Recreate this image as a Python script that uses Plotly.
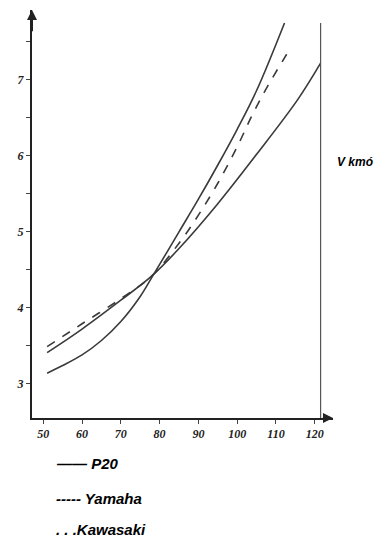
import plotly.graph_objects as go

# ---- data ----
p20_x = [51, 60, 70, 78, 85, 95, 105, 115.6, 121.5]
p20_y = [3.41, 3.72, 4.10, 4.42, 4.78, 5.37, 6.02, 6.74, 7.22]

yam_x = [51, 60, 70, 78, 85, 90, 95, 100, 104, 108, 113.5]
yam_y = [3.49, 3.79, 4.12, 4.42, 4.85, 5.22, 5.64, 6.12, 6.55, 6.93, 7.40]

kaw_x = [51, 55, 60, 65, 70, 75, 78, 85, 90, 95, 100, 105, 112.2]
kaw_y = [3.14, 3.24, 3.38, 3.57, 3.82, 4.15, 4.40, 5.00, 5.43, 5.88, 6.35, 6.86, 7.75]

x_ticks = [50, 60, 70, 80, 90, 100, 110, 120]
y_ticks = [3, 3.5, 4, 4.5, 5, 5.5, 6, 6.5, 7, 7.5]
y_tick_text = ["3", "", "4", "", "5", "", "6", "", "7", ""]
limit_x = 121.5
limit_top = 7.75

X_RANGE = [47.1, 124.7]
Y_RANGE = [2.55, 7.92]

W, H = 379, 538
ML, MR, MT, MB = 32, 46, 10, 120

line_col = "#3a3a3a"
fig = go.Figure()
fig.add_trace(go.Scatter(x=p20_x, y=p20_y, mode="lines", line=dict(color=line_col, width=1.6, shape="spline"), name="P20"))
fig.add_trace(go.Scatter(x=yam_x, y=yam_y, mode="lines", line=dict(color=line_col, width=1.6, shape="spline", dash="dash"), name="Yamaha"))
fig.add_trace(go.Scatter(x=kaw_x, y=kaw_y, mode="lines", line=dict(color=line_col, width=1.6, shape="spline"), name="Kawasaki"))
fig.add_trace(go.Scatter(x=[limit_x, limit_x], y=[Y_RANGE[0], limit_top], mode="lines", line=dict(color="#555", width=1.2), showlegend=False))

tickfont = dict(family="Liberation Serif", size=12, color="#222", style="italic", weight="bold")
fig.update_xaxes(range=X_RANGE, tickvals=x_ticks, showgrid=False, zeroline=False, showline=True,
                 linecolor="#222", linewidth=2, ticks="outside", ticklen=4, tickcolor="#444",
                 tickfont=tickfont)
fig.update_yaxes(range=Y_RANGE, tickvals=y_ticks, ticktext=y_tick_text,
                 showgrid=False, zeroline=False, showline=True,
                 linecolor="#222", linewidth=2, ticks="outside", ticklen=4, tickcolor="#444",
                 tickfont=tickfont)

# axis arrows
fig.add_annotation(x=X_RANGE[0], y=Y_RANGE[1], ax=X_RANGE[0], ay=Y_RANGE[1] - 0.3, xref="x", yref="y",
                   axref="x", ayref="y", text="", showarrow=True, arrowhead=2, arrowsize=1, arrowwidth=2, arrowcolor="#222")
fig.add_annotation(x=X_RANGE[1], y=Y_RANGE[0], ax=X_RANGE[1] - 3, ay=Y_RANGE[0], xref="x", yref="y",
                   axref="x", ayref="y", text="", showarrow=True, arrowhead=2, arrowsize=1, arrowwidth=2, arrowcolor="#222")


def paper(px, py):
    return (px - ML) / (W - ML - MR), (H - MB - py) / (H - MT - MB)


lab = dict(family="Liberation Sans", size=12, color="#000", style="italic", weight="bold")
x0, y0 = paper(335, 162)
fig.add_annotation(x=x0, y=y0, xref="paper", yref="paper", text="V kmó", showarrow=False,
                   xanchor="left", yanchor="middle", font=lab)

leg = dict(family="Liberation Sans", size=15, color="#000", style="italic", weight="bold")
for txt, ypx in [("—— P20", 463), ("----- Yamaha", 498), (". . .Kawasaki", 529)]:
    x0, y0 = paper(54, ypx)
    fig.add_annotation(x=x0, y=y0, xref="paper", yref="paper", text=txt, showarrow=False,
                       xanchor="left", yanchor="middle", font=leg)

fig.update_layout(width=W, height=H, margin=dict(l=ML, r=MR, t=MT, b=MB),
                  paper_bgcolor="white", plot_bgcolor="white", showlegend=False)

fig.write_html("out.html", config={"displayModeBar": False},
               post_script="document.body.style.margin='0';document.body.style.overflow='hidden';")
